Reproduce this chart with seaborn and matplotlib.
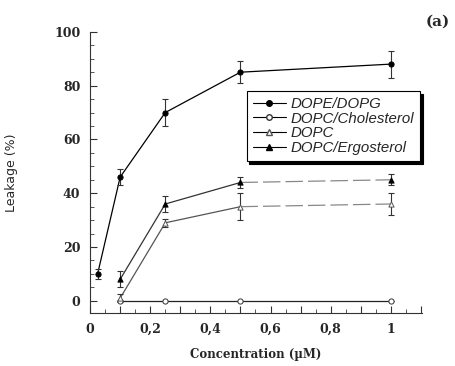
import numpy as np
import pandas as pd
import matplotlib
matplotlib.use("Agg")
import matplotlib.pyplot as plt
import seaborn as sns
from matplotlib.ticker import MultipleLocator, FuncFormatter

# Leakage data
conc_dope = [0.025, 0.1, 0.25, 0.5, 1.0]
leak_dope = [10, 46, 70, 85, 88]
err_dope = [2, 3, 5, 4, 5]

conc_chol = [0.1, 0.25, 0.5, 1.0]
leak_chol = [0, 0, 0, 0]
err_chol = [0, 0, 0, 0]

conc_dopc = [0.1, 0.25, 0.5, 1.0]
leak_dopc = [1, 29, 35, 36]
err_dopc = [1.5, 1.5, 5, 4]

conc_ergo = [0.1, 0.25, 0.5, 1.0]
leak_ergo = [8, 36, 44, 45]
err_ergo = [3, 3, 2, 2]

series = [
    ("DOPE/DOPG", conc_dope, leak_dope, err_dope),
    ("DOPC/Cholesterol", conc_chol, leak_chol, err_chol),
    ("DOPC", conc_dopc, leak_dopc, err_dopc),
    ("DOPC/Ergosterol", conc_ergo, leak_ergo, err_ergo),
]

rows = []
for name, xs, ys, es in series:
    for x, y, e in zip(xs, ys, es):
        rows.append({"sample": name, "conc": x, "leak": y, "err": e})
df = pd.DataFrame(rows)

sns.set_style("ticks")

fig = plt.figure(figsize=(4.55, 3.66), dpi=100)
ax = fig.add_axes([0.198, 0.145, 0.729, 0.768])

markers = {"DOPE/DOPG": "o", "DOPC/Cholesterol": "o", "DOPC": "^", "DOPC/Ergosterol": "^"}
faces = {"DOPE/DOPG": "black", "DOPC/Cholesterol": "white", "DOPC": "white", "DOPC/Ergosterol": "black"}
edges = {"DOPE/DOPG": "black", "DOPC/Cholesterol": "#333333", "DOPC": "#555555", "DOPC/Ergosterol": "black"}
lcolors = {"DOPE/DOPG": "black", "DOPC/Cholesterol": "#222222", "DOPC": "#555555", "DOPC/Ergosterol": "#333333"}
dashed_tail = {"DOPC", "DOPC/Ergosterol"}

handles = []
for name, xs, ys, es in series:
    sub = df[df["sample"] == name]
    if name in dashed_tail:
        head = sub.iloc[:-1]
        tail = sub.iloc[-2:]
        sns.lineplot(data=head, x="conc", y="leak", ax=ax, color=lcolors[name],
                     linewidth=0.9, legend=False)
        ax.plot(tail["conc"], tail["leak"], color="#888888", linewidth=0.9,
                dashes=(14, 4))
    else:
        sns.lineplot(data=sub, x="conc", y="leak", ax=ax, color=lcolors[name],
                     linewidth=0.9, legend=False)
    ax.errorbar(sub["conc"], sub["leak"], yerr=sub["err"], fmt="none",
                ecolor="#333333", elinewidth=0.8, capsize=2, capthick=0.8)
    ax.scatter(sub["conc"], sub["leak"], marker=markers[name], s=14,
               facecolor=faces[name], edgecolor=edges[name], linewidth=0.7, zorder=5)
    h, = ax.plot([], [], color="black", linewidth=0.8, marker=markers[name],
                 markersize=4, markerfacecolor=faces[name],
                 markeredgecolor=edges[name], label=name)
    handles.append(h)

ax.set_xlim(0, 1.103)
ax.set_ylim(-4.5, 100)
ax.xaxis.set_major_locator(MultipleLocator(0.1))
ax.xaxis.set_minor_locator(MultipleLocator(0.05))
ax.yaxis.set_major_locator(MultipleLocator(20))
ax.yaxis.set_minor_locator(MultipleLocator(5))
ax.set_yticks([0, 20, 40, 60, 80, 100])


def comma(v, pos):
    k = int(round(v * 10))
    if k % 2:
        return ""
    if k % 10 == 0:
        return str(k // 10)
    return f"{v:.1f}".replace(".", ",")


ax.xaxis.set_major_formatter(FuncFormatter(comma))
ax.tick_params(axis="both", which="major", direction="in", length=5, width=0.8,
               color="#333333", pad=7)
ax.tick_params(axis="both", which="minor", direction="in", length=3, width=0.7,
               color="#555555")
for lab in ax.get_xticklabels() + ax.get_yticklabels():
    lab.set_fontfamily("DejaVu Serif")
    lab.set_fontweight("bold")
    lab.set_fontsize(9)

sns.despine(ax=ax)
for sp in ["left", "bottom"]:
    ax.spines[sp].set_color("#333333")
    ax.spines[sp].set_linewidth(0.8)

ax.set_xlabel("Concentration (µM)", fontfamily="DejaVu Serif", fontweight="bold",
              fontsize=8.5, labelpad=9)
ax.set_ylabel("Leakage (%)", fontfamily="DejaVu Sans", fontsize=9, labelpad=26)

leg = ax.legend(handles=handles, loc="upper left", bbox_to_anchor=(0.472, 0.79),
                frameon=True, fancybox=False, shadow={"color": "black", "alpha": 1},
                prop={"family": "Liberation Sans", "style": "italic", "size": 10.8},
                handlelength=2.2, handletextpad=0.3, labelspacing=0.05,
                borderpad=0.4, borderaxespad=0)
leg.get_frame().set_edgecolor("black")
leg.get_frame().set_linewidth(0.8)
leg.get_frame().set_alpha(1)

fig.text(0.962, 0.94, "(a)", fontfamily="DejaVu Serif", fontweight="bold",
         fontsize=11, ha="center", va="center")

fig.savefig("out.png", dpi=100, facecolor="white")
